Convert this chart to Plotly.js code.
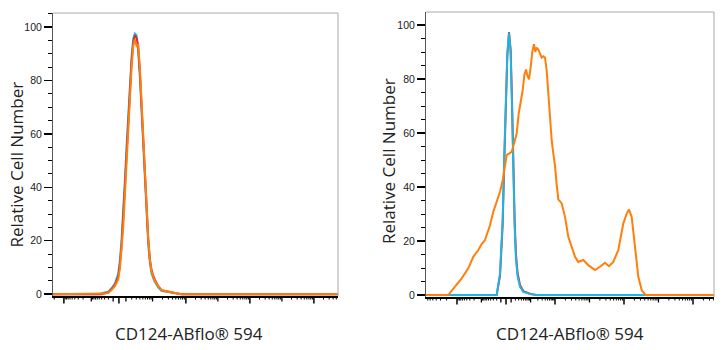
<!DOCTYPE html>
<html>
<head>
<meta charset="utf-8">
<script src="https://cdn.plot.ly/plotly-3.0.1.min.js"></script>
<style>html,body{margin:0;padding:0;background:#fff;}#chart{width:726px;height:350px;}</style>
</head>
<body>
<div id="chart"></div>
<script>
// ---------- DATA (x in display units of each panel's biexponential axis) ----------
const xTitle = "CD124-ABflo® 594";
const yTitle = "Relative Cell Number";
const xTickText = ["-10<sup>4</sup>", "0", "10<sup>4</sup>", "10<sup>6</sup>", "10<sup>8</sup>"];
const yTickVals = [0, 20, 40, 60, 80, 100];

const xLeft = [-0.34, 1.10, 1.18, 1.28, 1.385, 1.49, 1.594, 1.698, 1.75, 1.802, 1.854, 1.906, 1.958, 2.01, 2.0625, 2.115, 2.167, 2.219, 2.27, 2.32, 2.375, 2.427, 2.48, 2.53, 2.58, 2.635, 2.6875, 2.74, 2.79, 2.84, 2.95, 3.05, 3.16, 3.26, 3.37, 3.47, 3.58, 3.68, 8.56];
const cyanLeft = [0, 0, 0.3, 0.6, 0.9, 2.2, 4, 7.7, 12.7, 20.2, 30.2, 42.7, 55.2, 67.7, 78.9, 88.9, 95.8, 97.6, 97, 91.4, 81.4, 68.9, 55.2, 42.7, 30.2, 19, 11.5, 7.7, 6, 4.6, 2.5, 1.2, 1.0, 0.9, 0.5, 0.2, 0.1, 0, 0];
const redLeft = [0, 0, 0, 0.3, 0.6, 1.8, 3.5, 6.5, 11, 18, 27.5, 40, 52, 65, 77, 87, 94, 97, 96, 93, 83, 71, 57.5, 44.5, 32, 21, 13, 9, 7, 5.5, 3, 1.5, 1.2, 1, 0.6, 0.3, 0.1, 0, 0];
const orangeLeft = [0, 0, 0, 0.2, 0.5, 1.5, 3, 5.5, 9.5, 16, 25, 37, 50, 62, 74, 85, 93, 95.5, 93, 93.5, 85, 72, 58, 45, 32, 21, 13, 8.5, 6.5, 5, 3, 1.5, 1.2, 1, 0.6, 0.3, 0.1, 0, 0];

const xRightCtrl = [0.17, 2.222, 2.319, 2.396, 2.444, 2.493, 2.531, 2.580, 2.628, 2.667, 2.705, 2.744, 2.783, 2.831, 2.899, 2.995, 3.188, 3.382, 8.52];
const cyanRight = [0, 0, 8, 27.8, 52.5, 74.7, 89.5, 97.2, 89.5, 69.8, 46.3, 25.3, 13, 6.8, 3.1, 1.2, 0.4, 0, 0];
const redRight = [0, 0, 7, 26, 50, 73, 88.5, 97.5, 91, 72, 48.5, 27.5, 15, 8, 3.8, 1.5, 0.5, 0, 0];
const xRightStain = [0.17, 0.820, 1.014, 1.209, 1.400, 1.545, 1.690, 1.788, 1.884, 2.029, 2.125, 2.223, 2.319, 2.397, 2.464, 2.513, 2.588, 2.658, 2.725, 2.803, 2.861, 2.919, 2.977, 3.023, 3.072, 3.110, 3.159, 3.209, 3.255, 3.304, 3.342, 3.383, 3.429, 3.478, 3.528, 3.574, 3.623, 3.672, 3.719, 3.768, 3.817, 3.864, 3.913, 3.962, 4.009, 4.107, 4.203, 4.299, 4.397, 4.493, 4.588, 4.733, 4.878, 5.072, 5.217, 5.362, 5.478, 5.603, 5.748, 5.826, 5.893, 5.991, 6.058, 6.136, 6.188, 6.232, 6.328, 6.426, 6.522, 6.580, 8.52];
const orangeRight = [0, 0, 3.1, 6.2, 9.9, 14.2, 16.7, 18.9, 20.4, 25.9, 30.9, 34.6, 38.3, 42.6, 48.8, 51.9, 52.5, 53.1, 56.2, 59.9, 67.3, 71, 75.9, 81.5, 83.6, 81.5, 79.9, 84.6, 90.1, 93, 90.1, 91.7, 91, 89.5, 88, 88.5, 88, 83.3, 74.7, 64.8, 57.4, 52.5, 48, 41, 35.5, 34, 29, 21.6, 17.9, 14.2, 12.3, 13, 11.1, 9.3, 10.5, 12, 10.7, 12.3, 16.7, 22, 26.5, 30.2, 31.7, 29, 23, 17.9, 6.8, 1.9, 0.2, 0, 0];

const tickPosLeft = [0.0, 1.72, 3.8125, 5.8125, 7.8125];
const tickPosRight = [1.072, 2.493, 3.913, 5.913, 7.913];
const rangeLeft = [-0.34, 8.566];
const rangeRight = [0.174, 8.522];

const COL_ORANGE = '#FF7F0A', COL_CYAN = '#19B6E8', COL_RED = '#E8282B';

function makeMap(tp) {
  const Tn = tp[0], T0 = tp[1], T4 = tp[2], w = 200, s = Math.asinh(1e4 / w);
  return function (v) {
    if (v >= 1e4) return T4 + Math.log10(v / 1e4);
    if (v >= 0) return T0 + (T4 - T0) * Math.asinh(v / w) / s;
    if (v > -1e4) return T0 - (T0 - Tn) * Math.asinh(-v / w) / s;
    return Tn - Math.log10(-v / 1e4);
  };
}
function tickSets(tp, range) {
  const f = makeMap(tp);
  const small = [], medium = [];
  for (let d = 2; d <= 8; d++) {
    for (let k = 1; k <= 9; k++) {
      [1, -1].forEach(sg => {
        const v = sg * k * Math.pow(10, d);
        if (k === 1 && (v === 1e4 || v === 1e6 || v === 1e8 || v === -1e4)) return;
        const t = f(v);
        if (t > range[0] && t < range[1]) (k === 1 ? medium : small).push(t);
      });
    }
  }
  return {small, medium};
}

const W = 726, H = 350;
const tickFont = {family: 'Liberation Sans, Arial, sans-serif', size: 10.5, color: '#222'};
const xTickFont = {family: 'Liberation Sans, Arial, sans-serif', size: 11, color: '#222'};

function xAxis(range, domain, anchor) {
  return {domain: domain, anchor: anchor, range: range, showgrid: false, zeroline: false,
    showline: true, linecolor: '#000', linewidth: 1.5, layer: 'below traces',
    ticks: '', showticklabels: false, fixedrange: true};
}
function yAxis(range, domain, anchor) {
  return {domain: domain, anchor: anchor, range: range, showgrid: false, zeroline: false,
    showline: true, linecolor: '#555', linewidth: 1, layer: 'below traces',
    ticks: 'outside', ticklen: 8, tickwidth: 1.5, tickcolor: '#000',
    tickmode: 'array', tickvals: yTickVals, ticktext: yTickVals.map(String), tickfont: tickFont,
    minor: {dtick: 5, ticks: 'outside', ticklen: 4, tickwidth: 1, tickcolor: '#000'}, fixedrange: true};
}
function xTickShapes(xr, tp, range, axisPx) {
  const ts = tickSets(tp, range);
  const out = [];
  const mk = (t, len, wdt) => ({type: 'line', xref: xr, yref: 'paper', x0: t, x1: t,
    y0: (H - axisPx) / H, y1: (H - axisPx - len) / H, line: {color: '#000', width: wdt}, layer: 'above'});
  ts.small.forEach(t => out.push(mk(t, 3, 1)));
  ts.medium.forEach(t => out.push(mk(t, 5, 1.3)));
  tp.forEach(t => out.push(mk(t, 7, 1.5)));
  return out;
}

const line = (c) => ({color: c, width: 2});
// tick labels drawn as a text trace through each panel's own axes (below the y range, not clipped)
const labelTrace = (xa, ya, tp, yv) => ({
  x: tp, y: tp.map(() => yv), text: xTickText, xaxis: xa, yaxis: ya,
  mode: 'text', textposition: 'middle center', textfont: xTickFont,
  cliponaxis: false, hoverinfo: 'skip', showlegend: false
});
const traces = [
  {x: xLeft, y: cyanLeft, xaxis: 'x', yaxis: 'y', mode: 'lines', line: line(COL_CYAN)},
  {x: xLeft, y: redLeft, xaxis: 'x', yaxis: 'y', mode: 'lines', line: line(COL_RED)},
  {x: xLeft, y: orangeLeft, xaxis: 'x', yaxis: 'y', mode: 'lines', line: line(COL_ORANGE)},
  {x: xRightCtrl, y: redRight, xaxis: 'x2', yaxis: 'y2', mode: 'lines', line: line(COL_RED)},
  {x: xRightCtrl, y: cyanRight, xaxis: 'x2', yaxis: 'y2', mode: 'lines', line: line(COL_CYAN)},
  {x: xRightStain, y: orangeRight, xaxis: 'x2', yaxis: 'y2', mode: 'lines', line: line(COL_ORANGE)},
  labelTrace('x', 'y', tickPosLeft, -7.0),
  labelTrace('x2', 'y2', tickPosRight, -6.5)
];

const titleFont = {family: 'Open Sans, Noto Sans, sans-serif', size: 17, color: '#222'};
const border = (xr, yr) => [
  {type: 'line', xref: xr + ' domain', yref: yr + ' domain', x0: 0, x1: 1, y0: 1, y1: 1, line: {color: '#A8A8A8', width: 1}},
  {type: 'line', xref: xr + ' domain', yref: yr + ' domain', x0: 1, x1: 1, y0: 0, y1: 1, line: {color: '#A8A8A8', width: 1}}
];
const dL = [53 / W, 338 / W], dR = [426 / W, 714 / W];

const layout = {
  width: W, height: H, margin: {l: 0, r: 0, t: 0, b: 0},
  paper_bgcolor: '#fff', plot_bgcolor: '#fff', showlegend: false,
  xaxis: xAxis(rangeLeft, dL, 'y'),
  yaxis: yAxis([-0.7, 105.3], [(H - 296) / H, (H - 13) / H], 'x'),
  xaxis2: xAxis(rangeRight, dR, 'y2'),
  yaxis2: yAxis([-0.7, 104.9], [(H - 297) / H, (H - 12) / H], 'x2'),
  shapes: border('x', 'y').concat(border('x2', 'y2'))
    .concat(xTickShapes('x', tickPosLeft, rangeLeft, 296.5))
    .concat(xTickShapes('x2', tickPosRight, rangeRight, 297.5)),
  annotations: [
    {text: xTitle, xref: 'paper', yref: 'paper', x: 189 / W, y: (H - 333) / H, xanchor: 'center', yanchor: 'middle', showarrow: false, font: titleFont},
    {text: xTitle, xref: 'paper', yref: 'paper', x: 570 / W, y: (H - 333) / H, xanchor: 'center', yanchor: 'middle', showarrow: false, font: titleFont},
    {text: yTitle, xref: 'paper', yref: 'paper', x: 15.5 / W, y: (H - 165) / H, xanchor: 'center', yanchor: 'middle', textangle: -90, showarrow: false, font: titleFont},
    {text: yTitle, xref: 'paper', yref: 'paper', x: 388 / W, y: (H - 161) / H, xanchor: 'center', yanchor: 'middle', textangle: -90, showarrow: false, font: titleFont}
  ]
};

Plotly.newPlot('chart', traces, layout, {staticPlot: true, displayModeBar: false});
</script>
</body>
</html>
